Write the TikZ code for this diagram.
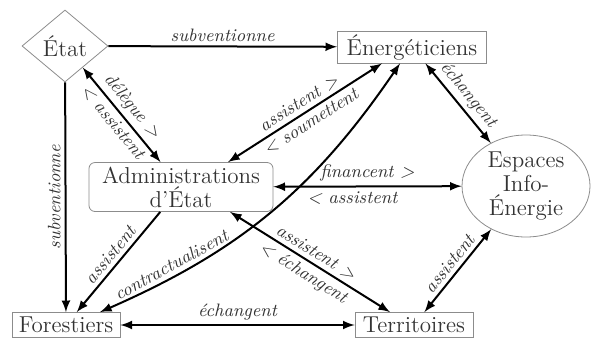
\documentclass[tikz,border=0pt]{standalone}
\usepackage{fontspec}
\usetikzlibrary{shapes.geometric,arrows}

\tikzset{
  acteur/.style={draw=black!45, thin, rectangle, text=black!80,
    font=\fontsize{11.5}{12}\selectfont, inner xsep=3pt, inner ysep=1.5pt},
  losange/.style={draw=black!45, thin, diamond, text=black!80,
    font=\fontsize{11.5}{12}\selectfont, inner sep=0pt,
    minimum width=43pt, minimum height=36pt},
  bulle/.style={draw=black!45, thin, ellipse, text=black!80, align=center,
    font=\fontsize{11.5}{12}\selectfont, inner sep=0pt,
    minimum width=64pt, minimum height=51pt},
  rel/.style={font=\small\itshape, text=black!80, inner sep=2pt}
}

\begin{document}
\begin{tikzpicture}[x=0.5pt, y=-0.5pt, line width=1pt, >=latex]
    \useasboundingbox (0,0) rectangle (592,338);
    % Nodes
    \node[losange] (etat) at (65,46) {État};
    \node[acteur, minimum width=74.5pt, minimum height=16pt] (energ) at (412,47) {Énergéticiens};
    \node[acteur, rounded corners=3pt, align=center, minimum width=92pt, minimum height=24.5pt] (admin) at (181,187) {Administrations\\d'État};
    \node[bulle] (espaces) at (526,186) {Espaces\\Info-\\Énergie};
    \node[acteur, minimum width=54pt, minimum height=12.5pt] (forest) at (66,325) {Forestiers};
    \node[acteur, minimum width=59pt, minimum height=12.5pt] (territ) at (414,325) {Territoires};
    % Relations
    \draw[->] (etat) -- (energ) node[rel, midway, above] {subventionne};
    \draw[->] (etat) -- (forest) node[rel, midway, rotate=90, anchor=south] {subventionne};
    \draw[<->] (etat) -- (admin) node[rel, midway, above, sloped] {délègue >} node[rel, midway, below, sloped] {< assistent};
    \draw[<->] ([xshift=23.5pt]admin.north) -- ([xshift=-15pt]energ.south) node[rel, midway, above, sloped] {assistent >} node[rel, midway, below, sloped] {< soumettent};
    \draw[<->] (energ) -- (espaces) node[rel, midway, above, sloped] {échangent};
    \draw[<->] (admin) -- (espaces) node[rel, midway, above] {financent >} node[rel, pos=0.42, below] {< assistent};
    \draw[<-] (forest) -- (admin) node[rel, midway, above, sloped] {assistent};
    \draw[<->] ([xshift=17pt]forest.north) to[bend right=16] node[rel, pos=0.2, above, sloped] {contractualisent} ([xshift=-6pt]energ.south);
    \draw[<->] ([xshift=24.5pt]admin.south) -- ([xshift=-12pt]territ.north) node[rel, midway, above, sloped] {assistent >} node[rel, midway, below, sloped] {< échangent};
    \draw[<->] (forest) -- (territ) node[rel, midway, above] {échangent};
    \draw[<->] (territ) -- (espaces) node[rel, midway, above, sloped] {assistent};
\end{tikzpicture}
\end{document}
